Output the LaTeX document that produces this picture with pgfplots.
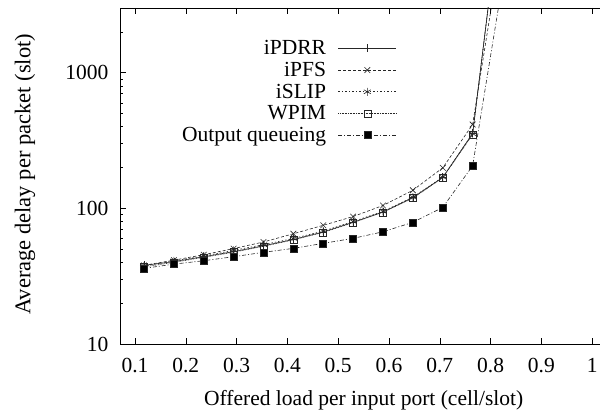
\documentclass[border=0pt]{standalone}
\usepackage{fontspec}
\setmainfont{Liberation Serif}
\usepackage{pgfplots}
\pgfplotsset{compat=1.18}
\newcommand{\bigf}{\fontsize{21.5}{24}\selectfont}
\begin{document}
\begin{tikzpicture}
\useasboundingbox (0,0) rectangle (600pt,412pt);
\begin{axis}[
  at={(120pt,68pt)}, anchor=south west,
  scale only axis, width=487.4pt, height=336pt,
  xmin=0.0705, xmax=1.03,
  ymode=log, ymin=10, ymax=3000,
  xtick={0.1,0.2,0.3,0.4,0.5,0.6,0.7,0.8,0.9,1.0},
  xticklabels={0.1,0.2,0.3,0.4,0.5,0.6,0.7,0.8,0.9,1},
  ytick={10,100,1000},
  yticklabels={10,100,1000},
  minor ytick={20,30,40,50,60,70,80,90,200,300,400,500,600,700,800,900,2000,3000},
  tick align=inside,
  major tick length=6pt, minor tick length=3pt,
  tick style={black, line width=0.5pt},
  axis line style={line width=0.6pt},
  xticklabel style={font=\bigf, yshift=-11pt},
  yticklabel style={font=\bigf, xshift=-8pt},
  every axis x label/.style={at={(axis description cs:0.5,-0.167)}, anchor=center, font=\bigf},
  every axis y label/.style={at={(axis description cs:-0.195,0.505)}, anchor=center, rotate=90, font=\fontsize{22.5}{24}\selectfont},
  xlabel={Offered load per input port (cell/slot)},
  ylabel={Average delay per packet (slot)},
  legend cell align=right,
  legend style={legend plot pos=right, draw=none, fill=none,
    at={(axis description cs:0.568,0.91)}, anchor=north east,
    row sep=2pt, font=\bigf, inner sep=0pt,
    /tikz/column 1/.style={column sep=10pt}},
  legend image code/.code={\draw[mark repeat=2,mark phase=2,#1] plot coordinates {(0pt,0pt)(29pt,0pt)(58pt,0pt)};},
  every axis plot/.append style={line width=0.6pt, black!85},
]
\addplot[mark=+, mark size=4pt, mark options={solid}] coordinates {
(0.1176,38) (0.1765,40.5) (0.2353,44) (0.2941,48) (0.3529,53) (0.4118,59)
(0.4706,67) (0.5294,79) (0.5882,94) (0.6471,120) (0.7059,169) (0.7647,357) (0.8235,22000)};
\addlegendentry{iPDRR}
\addplot[dash pattern=on 3pt off 2pt, mark=x, mark size=4pt, mark options={solid}] coordinates {
(0.1176,38) (0.1765,41.5) (0.2353,45.5) (0.2941,50.5) (0.3529,56.5) (0.4118,65)
(0.4706,75) (0.5294,87) (0.5882,105) (0.6471,136) (0.7059,199) (0.7647,415) (0.8235,10000)};
\addlegendentry{iPFS}
\addplot[dash pattern=on 1.5pt off 2pt, mark=asterisk, mark size=4pt, mark options={solid}] coordinates {
(0.1176,37.5) (0.1765,41) (0.2353,44.5) (0.2941,49) (0.3529,54) (0.4118,60)
(0.4706,68) (0.5294,80) (0.5882,95) (0.6471,121) (0.7059,170) (0.7647,355) (0.8235,22000)};
\addlegendentry{iSLIP}
\addplot[dash pattern=on 0.8pt off 0.8pt, mark=square, mark size=3.5pt, mark options={solid}] coordinates {
(0.1176,37) (0.1765,40) (0.2353,43.5) (0.2941,47.5) (0.3529,52.5) (0.4118,58.5)
(0.4706,66.5) (0.5294,78.5) (0.5882,93.5) (0.6471,119) (0.7059,168) (0.7647,350) (0.8235,22000)};
\addlegendentry{WPIM}
\addplot[dash pattern=on 4pt off 2pt on 1pt off 2pt, mark=square*, mark size=3.5pt, mark options={solid, fill=black}] coordinates {
(0.1176,36.1) (0.1765,38.8) (0.2353,41.1) (0.2941,44) (0.3529,47.4) (0.4118,50.7)
(0.4706,55.2) (0.5294,60.1) (0.5882,67.2) (0.6471,78.9) (0.7059,101.6) (0.7647,206) (0.8235,4600)};
\addlegendentry{Output queueing}
\end{axis}
\end{tikzpicture}
\end{document}
